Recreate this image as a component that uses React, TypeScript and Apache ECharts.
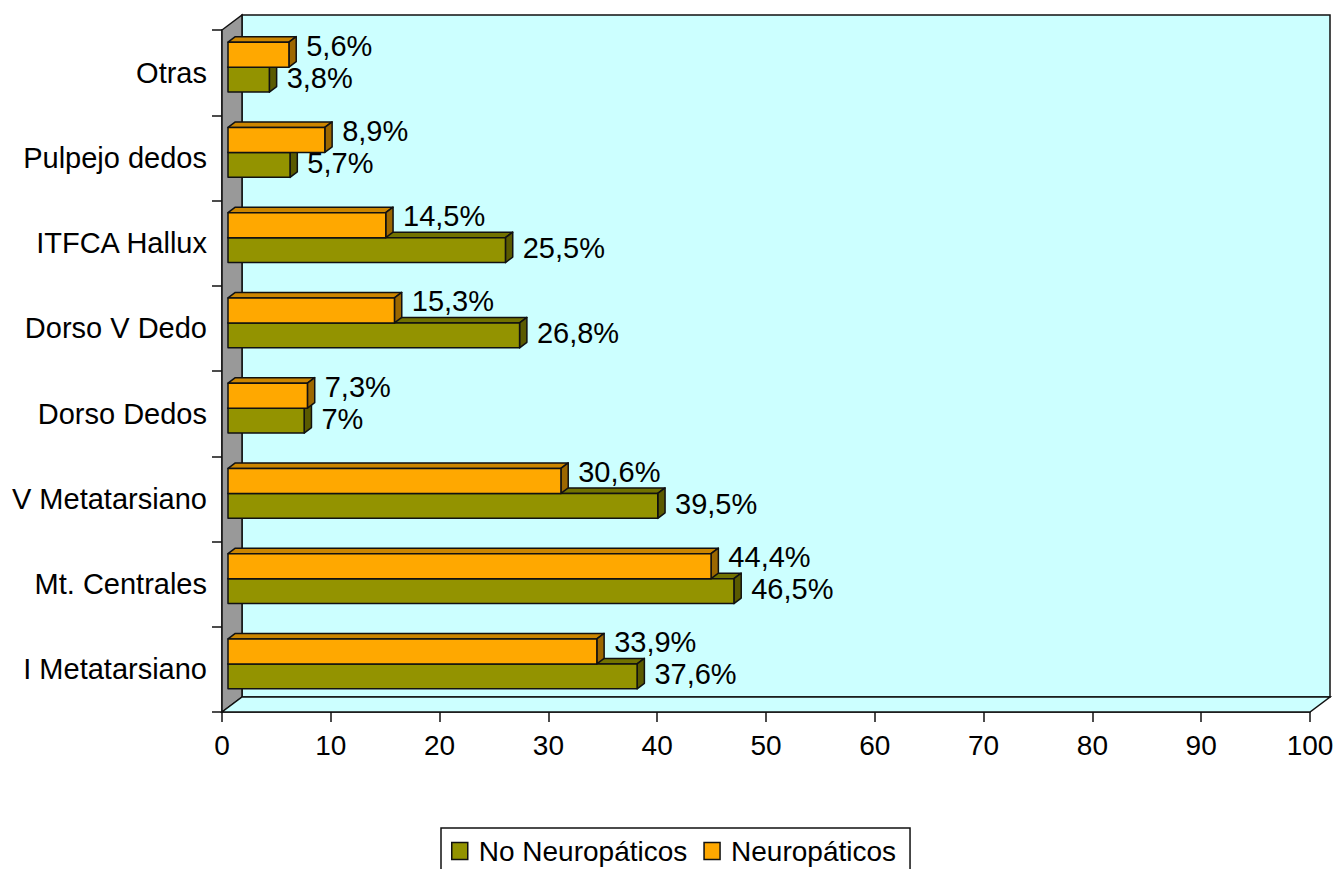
import React, { useEffect, useRef } from "react";
import * as echarts from "echarts";

// Ulcer location by group (percent of patients)
const categories = [
  "I Metatarsiano",
  "Mt. Centrales",
  "V Metatarsiano",
  "Dorso Dedos",
  "Dorso V Dedo",
  "ITFCA Hallux",
  "Pulpejo dedos",
  "Otras",
];
const noNeuropaticos = [37.6, 46.5, 39.5, 7, 26.8, 25.5, 5.7, 3.8];
const neuropaticos = [33.9, 44.4, 30.6, 7.3, 15.3, 14.5, 8.9, 5.6];
const seriesNames = ["No Neuropáticos", "Neuropáticos"];
const xMin = 0;
const xMax = 100;
const xStep = 10;

const FONT = '"Liberation Sans", Arial, sans-serif';
const FONT_SIZE = 28;
const LABEL_FONT_SIZE = 29;

// pseudo-3D geometry (pixels)
const WALL_DX = 20;
const WALL_DY = 15;
const FRONT_DX = 6;
const FRONT_DY = 5.5;
const BAR_DX = 7.3;
const BAR_DY = 5.5;
const BAR_RATIO = 0.293;
const LABEL_GAP = 10;

const fmt = (v: number) => String(v).replace(".", ",") + "%";

type Palette = { face: string; top: string; side: string };
const oliveColors: Palette = { face: "#939300", top: "#727200", side: "#5a5a00" };
const orangeColors: Palette = { face: "#FFA800", top: "#CC8600", side: "#9C6700" };

function barRenderer(pal: Palette, upper: boolean, labelDy: number) {
  return (params: any, api: any) => {
    const v = api.value(0);
    const cat = api.value(1);
    const [x0, yc] = api.coord([0, cat]);
    const [x1] = api.coord([v, cat]);
    const band = api.size([0, 1])[1];
    const h = band * BAR_RATIO;
    const w = x1 - x0;
    const fx = x0 + FRONT_DX;
    const mid = yc - FRONT_DY;
    const yTop = upper ? mid - h : mid;
    const stroke = { stroke: "#111", lineWidth: 1.5, lineJoin: "round" };
    return {
      type: "group",
      children: [
        {
          type: "polygon",
          shape: {
            points: [
              [fx, yTop],
              [fx + BAR_DX, yTop - BAR_DY],
              [fx + w + BAR_DX, yTop - BAR_DY],
              [fx + w, yTop],
            ],
          },
          style: { fill: pal.top, ...stroke },
        },
        {
          type: "polygon",
          shape: {
            points: [
              [fx + w, yTop],
              [fx + w + BAR_DX, yTop - BAR_DY],
              [fx + w + BAR_DX, yTop + h - BAR_DY],
              [fx + w, yTop + h],
            ],
          },
          style: { fill: pal.side, ...stroke },
        },
        {
          type: "rect",
          shape: { x: fx, y: yTop, width: w, height: h },
          style: { fill: pal.face, ...stroke },
        },
        {
          type: "text",
          x: fx + w + BAR_DX + LABEL_GAP,
          y: yTop + h / 2 + labelDy,
          z2: 10,
          style: {
            text: fmt(v),
            fill: "#000",
            fontSize: LABEL_FONT_SIZE,
            fontFamily: FONT,
            align: "left",
            verticalAlign: "middle",
          },
        },
      ],
    };
  };
}

function wallsRenderer(params: any) {
  const { x, y, width, height } = params.coordSys;
  const line = { stroke: "#111", lineWidth: 1.5 };
  return {
    type: "group",
    children: [
      {
        type: "rect",
        shape: { x: x + WALL_DX, y: y - WALL_DY, width, height },
        style: { fill: "#CCFFFF", ...line },
      },
      {
        type: "polygon",
        shape: {
          points: [
            [x, y],
            [x + WALL_DX, y - WALL_DY],
            [x + WALL_DX, y + height - WALL_DY],
            [x, y + height],
          ],
        },
        style: { fill: "#999999", ...line },
      },
      {
        type: "polygon",
        shape: {
          points: [
            [x, y + height],
            [x + WALL_DX, y + height - WALL_DY],
            [x + width + WALL_DX, y + height - WALL_DY],
            [x + width, y + height],
          ],
        },
        style: { fill: "#CCFFFF", ...line },
      },
    ],
  };
}

export default function App() {
  const ref = useRef<HTMLDivElement>(null);

  useEffect(() => {
    if (!ref.current) return;
    const chart = echarts.init(ref.current, null, { renderer: "svg" });
    const axisText = { color: "#000", fontSize: FONT_SIZE, fontFamily: FONT };
    chart.setOption({
      animation: false,
      backgroundColor: "#fff",
      grid: { left: 222, right: 27, top: 30, bottom: 157, containLabel: false },
      xAxis: {
        type: "value",
        min: xMin,
        max: xMax,
        interval: xStep,
        axisLine: { show: true, lineStyle: { color: "#111", width: 1.5 } },
        axisTick: { show: true, length: 10, lineStyle: { color: "#111", width: 1.5 } },
        axisLabel: { ...axisText, margin: 19 },
        splitLine: { show: false },
      },
      yAxis: {
        type: "category",
        data: categories,
        axisLine: { show: true, lineStyle: { color: "#111", width: 1.5 } },
        axisTick: { show: true, length: 10, lineStyle: { color: "#111", width: 1.5 } },
        axisLabel: { ...axisText, fontSize: LABEL_FONT_SIZE, margin: 15 },
        splitLine: { show: false },
      },
      legend: {
        data: seriesNames,
        left: 441,
        top: 828,
        orient: "horizontal",
        icon: "rect",
        itemWidth: 16,
        itemHeight: 17,
        itemGap: 16,
        padding: [9, 14, 12, 10],
        borderColor: "#111",
        borderWidth: 1.5,
        borderRadius: 0,
        backgroundColor: "#fff",
        itemStyle: { borderColor: "#111", borderWidth: 1.5 },
        textStyle: { ...axisText, padding: [0, 0, 0, 6] },
      },
      series: [
        {
          type: "custom",
          name: "walls",
          z: 1,
          silent: true,
          clip: false,
          renderItem: wallsRenderer,
          data: [[0, 0]],
          encode: { x: 0, y: 1 },
        },
        {
          type: "custom",
          name: seriesNames[0],
          z: 2,
          silent: true,
          clip: false,
          itemStyle: { color: oliveColors.face },
          renderItem: barRenderer(oliveColors, false, -2),
          data: noNeuropaticos.map((v, i) => [v, i]),
          encode: { x: 0, y: 1 },
        },
        {
          type: "custom",
          name: seriesNames[1],
          z: 3,
          silent: true,
          clip: false,
          itemStyle: { color: orangeColors.face },
          renderItem: barRenderer(orangeColors, true, -9),
          data: neuropaticos.map((v, i) => [v, i]),
          encode: { x: 0, y: 1 },
        },
      ],
    });
    return () => chart.dispose();
  }, []);

  return (
    <div
      ref={ref}
      style={{ position: "absolute", left: 0, top: 0, width: 1337, height: 869 }}
    />
  );
}
